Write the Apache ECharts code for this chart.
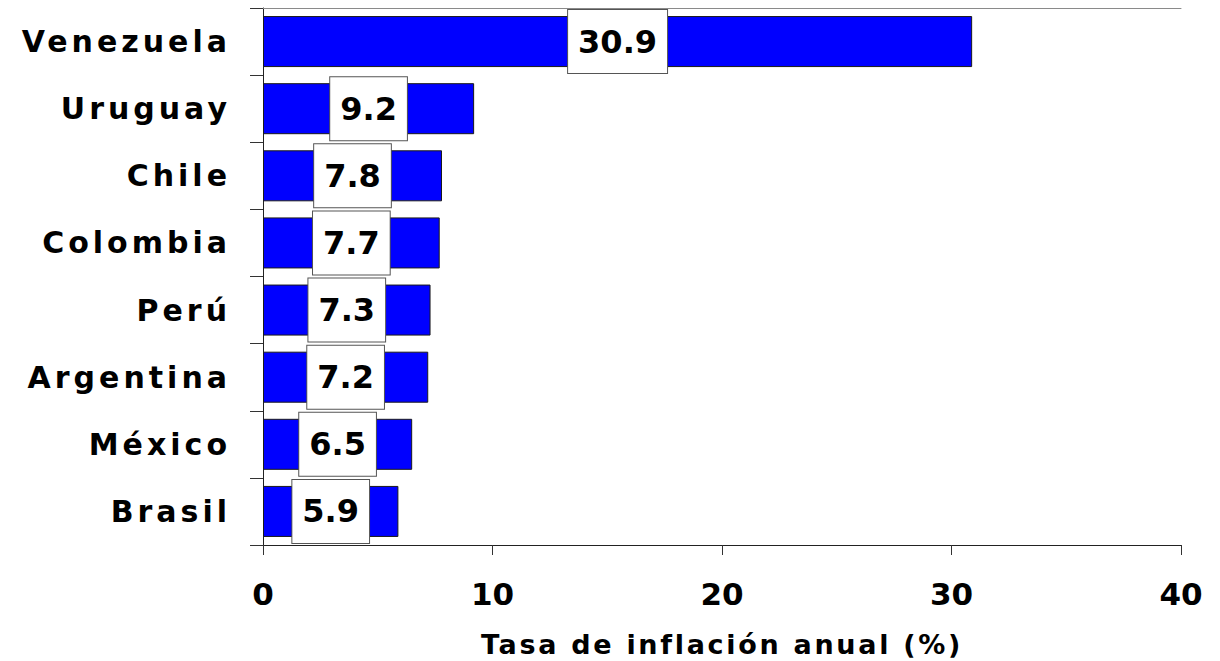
<!DOCTYPE html>
<html>
<head>
<meta charset="utf-8">
<script src="https://cdn.jsdelivr.net/npm/echarts@6/dist/echarts.min.js"></script>
<style>
html,body{margin:0;padding:0;background:#fff;}
#main{width:1220px;height:661px;}
</style>
</head>
<body>
<div id="main"></div>
<script>
const categories = ['Venezuela','Uruguay','Chile','Colombia','Perú','Argentina','México','Brasil'];
const inflation = [30.9, 9.2, 7.8, 7.7, 7.3, 7.2, 6.5, 5.9];
const xTicks = [0, 10, 20, 30, 40];
const axisTitle = 'Tasa de inflación anual (%)';

const FONT = 'DejaVu Sans';
const chart = echarts.init(document.getElementById('main'), null, {renderer: 'svg', width: 1220, height: 661});
chart.setOption({
  animation: false,
  backgroundColor: '#ffffff',
  grid: {left: 263, right: 39, top: 8, bottom: 116, containLabel: false, outerBoundsMode: 'none'},
  xAxis: [{
    type: 'value',
    position: 'bottom',
    min: xTicks[0],
    max: xTicks[xTicks.length - 1],
    interval: xTicks[1] - xTicks[0],
    axisLine: {show: true, lineStyle: {color: '#222', width: 1}},
    axisTick: {show: true, length: 10, lineStyle: {color: '#333'}},
    splitLine: {show: false},
    axisLabel: {margin: 33, fontFamily: FONT, fontWeight: 'bold', fontSize: 31, color: '#000'},
    name: axisTitle,
    nameLocation: 'middle',
    nameGap: 86,
    nameTextStyle: {fontFamily: FONT, fontWeight: 'bold', fontSize: 27, color: '#000'}
  }, {
    type: 'value',
    position: 'top',
    min: xTicks[0],
    max: xTicks[xTicks.length - 1],
    interval: xTicks[1] - xTicks[0],
    axisLine: {show: true, lineStyle: {color: '#8a8a8a', width: 1}},
    axisTick: {show: false},
    axisLabel: {show: false},
    splitLine: {show: false}
  }],
  yAxis: {
    type: 'category',
    data: categories,
    inverse: true,
    axisLine: {show: true, lineStyle: {color: '#222', width: 1}},
    axisTick: {show: true, length: 13, lineStyle: {color: '#333'}},
    axisLabel: {margin: 32, fontFamily: FONT, fontWeight: 'bold', fontSize: 30, color: '#000'}
  },
  series: [{
    type: 'bar',
    data: inflation,
    barCategoryGap: '24%',
    itemStyle: {color: '#0000ff', borderColor: '#1a1a1a', borderWidth: 1},
    label: {
      show: true,
      position: 'inside',
      formatter: p => p.value.toFixed(1),
      fontFamily: FONT,
      fontWeight: 'bold',
      fontSize: 32,
      lineHeight: 32,
      color: '#000',
      backgroundColor: '#ffffff',
      borderColor: '#555',
      borderWidth: 1,
      padding: [16, 10, 15, 10]
    }
  }]
});

function applySpacing() {
  const texts = document.querySelectorAll('#main svg text');
  texts.forEach(t => {
    const fs = parseFloat(getComputedStyle(t).fontSize);
    if (Math.abs(fs - 30) < 0.5) t.setAttribute('letter-spacing', '4');
    else if (Math.abs(fs - 27) < 0.5) t.setAttribute('letter-spacing', '2.7');
  });
}
applySpacing();
chart.on('finished', applySpacing);
setTimeout(applySpacing, 50);
</script>
</body>
</html>
